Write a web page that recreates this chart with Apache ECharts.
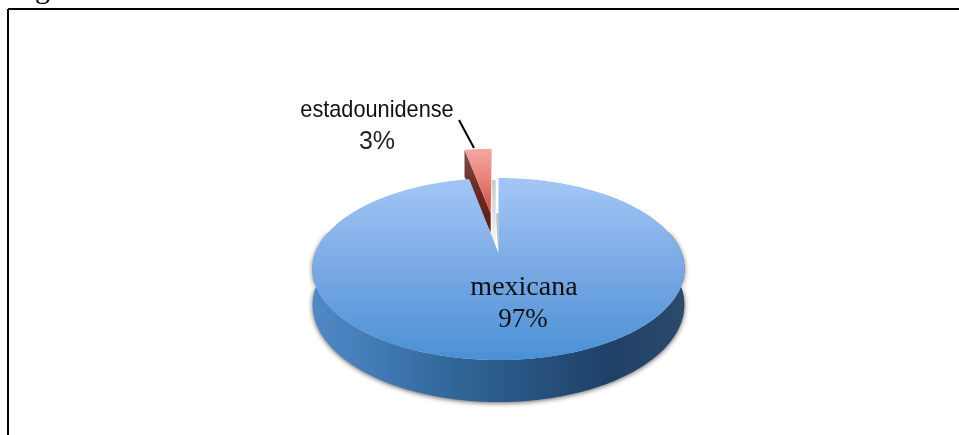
<!DOCTYPE html>
<html>
<head>
<meta charset="utf-8">
<style>html,body{margin:0;padding:0;background:#fff}#chart{width:959px;height:435px}</style>
<script src="https://cdn.jsdelivr.net/npm/echarts@6/dist/echarts.min.js"></script>
</head>
<body>
<div id="chart"></div>
<script>
// Nationality shares shown as an exploded perspective pie.
const categories = ['mexicana', 'estadounidense'];
const shares = [97, 3];
const totalShare = shares.reduce((a, b) => a + b, 0);

// Perspective model of the disc: u runs left-right, v runs near (-1) to far (+1).
const view = { cx: 498.5, cy: 253, ax: 183, ay: 88.2, persp: 0.176, wall: 34.6, explode: 0.493 };

function project(u, v, drop) {
  const w = 1 + view.persp * v;
  return [view.cx + view.ax * u / w, view.cy + (drop - view.ay * v) / w];
}

// Points along the rim between two clockwise angles measured from 12 o'clock.
function rim(from, to, du, dv, drop) {
  const pts = [];
  const steps = Math.max(2, Math.ceil(Math.abs(to - from) * 60));
  for (let i = 0; i <= steps; i++) {
    const a = from + (to - from) * i / steps;
    pts.push(project(Math.sin(a) + du, Math.cos(a) + dv, drop));
  }
  return pts;
}

const vGrad = (stops) => new echarts.graphic.LinearGradient(0, 0, 0, 1,
  stops.map((c, i) => ({ offset: i / (stops.length - 1), color: c })));
const hGrad = (stops) => new echarts.graphic.LinearGradient(0, 0, 1, 0,
  stops.map((c, i) => ({ offset: i / (stops.length - 1), color: c })));

function drawMajor(start, end, name, value) {
  // Front wall: only the near part of the rim is visible.
  const wStart = Math.max(start, Math.PI * 0.42);
  const wEnd = Math.min(end, Math.PI * 1.58);
  const wallPts = rim(wStart, wEnd, 0, 0, 0).concat(rim(wEnd, wStart, 0, 0, view.wall));
  const apex = project(0, 0, 0);
  const top = [apex].concat(rim(start, end, 0, 0, 0));
  return [
    { type: 'polygon', z2: 1, shape: { points: wallPts },
      style: { fill: hGrad(['#5089c6', '#3f78b2', '#2f6595', '#27527f', '#1f4067', '#2c4a6c']),
        shadowBlur: 5, shadowColor: 'rgba(30,30,30,0.7)', shadowOffsetY: 1 } },
    { type: 'polygon', z2: 4, shape: { points: top },
      style: { fill: vGrad(['#a3c6f6', '#79a9e4', '#4a90d6']) } },
    { type: 'text', z2: 6, style: { text: name, x: 524, y: 288, align: 'center', verticalAlign: 'middle',
        font: '28px "Liberation Serif"', fill: '#111' } },
    { type: 'text', z2: 6, style: { text: value + '%', x: 523, y: 320, align: 'center', verticalAlign: 'middle',
        font: '27px "Liberation Serif"', fill: '#111' } }
  ];
}

function drawExploded(start, end, name, value) {
  const mid = (start + end) / 2;
  const du = Math.sin(mid) * view.explode;
  const dv = Math.cos(mid) * view.explode;
  const apex = project(du, dv, 0);
  const apexLow = project(du, dv, 21);
  const left = project(Math.sin(start) + du, Math.cos(start) + dv, 0);
  const leftLow = project(Math.sin(start) + du, Math.cos(start) + dv, 34);
  const arc = rim(start, end, du, dv, 0);
  const right = arc[arc.length - 1];
  const hub = project(0, 0, 0);
  return [
    // Soft shadows that fall into the gap of the main slice.
    { type: 'polygon', z2: 1, shape: { points: [[right[0], right[1] + 31], [right[0] + 4, right[1] + 31],
        [right[0] + 4, apex[1] + 28], [right[0], apex[1] + 28]] },
      style: { fill: vGrad(['#c9c9c9', '#dedede', '#f4f4f4']) } },
    { type: 'polygon', z2: 1, shape: { points: [[hub[0] - 3, apex[1]], [hub[0], apex[1]], hub] },
      style: { fill: hGrad(['#e6e6e6', '#a8a8a8']) } },
    { type: 'polygon', z2: 2, shape: { points: [left, apex, apexLow, leftLow] },
      style: { fill: vGrad(['#7d4f4c', '#6b2a24', '#5e1a12']) } },
    { type: 'polygon', z2: 3, shape: { points: [apex].concat(arc) },
      style: { fill: vGrad(['#f6a6a3', '#e88078', '#cc5145']) } },
    { type: 'line', z2: 6, shape: { x1: 459, y1: 120, x2: 474, y2: 148 },
      style: { stroke: '#000', lineWidth: 2 } },
    { type: 'text', z2: 6, x: 377, y: 110, scaleX: 0.905, style: { text: name, x: 0, y: 0, align: 'center', verticalAlign: 'middle',
        font: '24px "Liberation Sans"', fill: '#111' } },
    { type: 'text', z2: 6, style: { text: value + '%', x: 377, y: 142, align: 'center', verticalAlign: 'middle',
        font: '25px "Liberation Sans"', fill: '#222' } }
  ];
}

function renderSlice(params, api) {
  const value = api.value(0);
  const before = shares.slice(0, params.dataIndex).reduce((a, b) => a + b, 0);
  const start = before / totalShare * Math.PI * 2;
  const end = (before + value) / totalShare * Math.PI * 2;
  const name = categories[params.dataIndex];
  const children = value / totalShare > 0.5
    ? drawMajor(start, end, name, value)
    : drawExploded(start, end, name, value);
  return { type: 'group', children };
}

const chart = echarts.init(document.getElementById('chart'), null, { renderer: 'canvas' });
chart.setOption({
  animation: false,
  backgroundColor: '#fff',
  graphic: [
    { type: 'line', shape: { x1: 8, y1: 9, x2: 959, y2: 9 }, style: { stroke: '#000', lineWidth: 2 } },
    { type: 'line', shape: { x1: 8, y1: 9, x2: 8, y2: 435 }, style: { stroke: '#000', lineWidth: 2 } },
    { type: 'text', style: { text: 'g', x: 35, y: -25, font: '30px "Liberation Serif"', fill: '#000' } }
  ],
  series: [{
    type: 'custom',
    coordinateSystem: 'none',
    renderItem: renderSlice,
    data: shares.map((v) => [v])
  }]
});
</script>
</body>
</html>
